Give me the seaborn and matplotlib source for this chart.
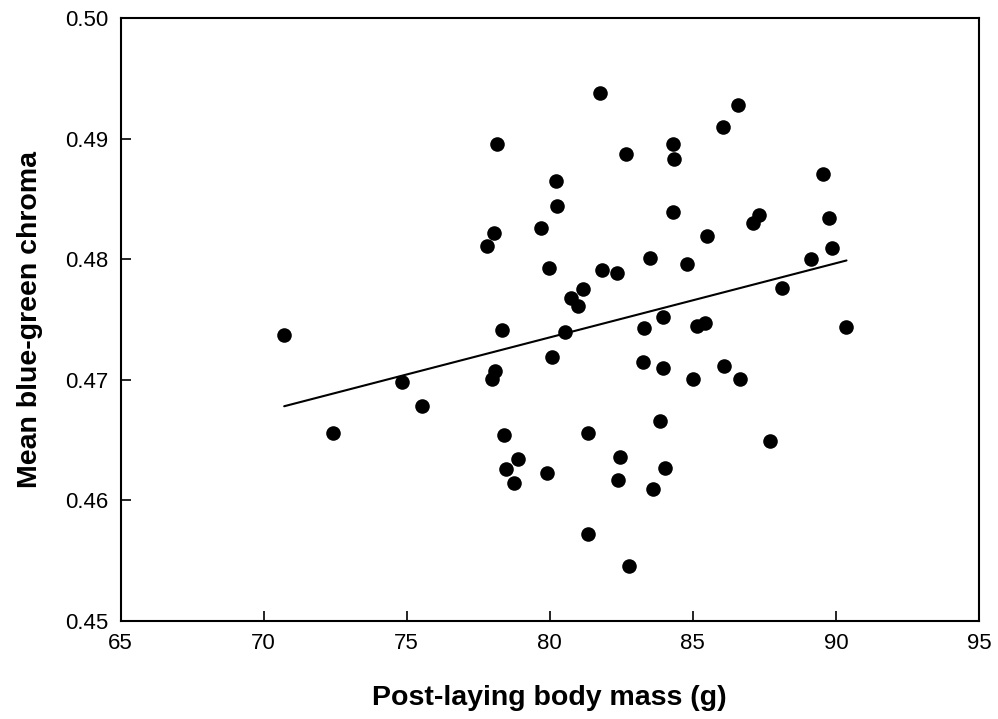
import matplotlib
matplotlib.use("Agg")
import matplotlib.pyplot as plt
import seaborn as sns
import pandas as pd

body_mass = [78.15, 80.22, 80.24, 79.69, 78.05, 77.81, 79.97, 81.77, 86.57, 86.06,
             82.67, 84.30, 84.34, 89.55, 84.30, 87.32, 87.09, 89.77, 85.48, 89.87,
             83.50, 89.14, 84.80, 81.81, 82.35, 81.17, 80.73, 81.00, 88.11, 80.53,
             83.29, 83.97, 85.13, 85.42, 90.35, 80.07, 83.25, 83.97, 85.02, 86.09,
             86.65, 83.85, 81.32, 87.68, 82.44, 84.03, 82.37, 83.62, 81.32, 82.76,
             70.72, 78.32, 78.09, 77.97, 74.84, 75.54, 72.42, 78.40, 78.90, 78.46,
             78.76, 79.89]
chroma = [0.4896, 0.4865, 0.4844, 0.4826, 0.4822, 0.4811, 0.4793, 0.4938, 0.4928, 0.4910,
          0.4887, 0.4896, 0.4883, 0.4871, 0.4839, 0.4837, 0.4830, 0.4834, 0.4819, 0.4809,
          0.4801, 0.4800, 0.4796, 0.4791, 0.4789, 0.4775, 0.4768, 0.4761, 0.4776, 0.4740,
          0.4743, 0.4752, 0.4745, 0.4747, 0.4744, 0.4719, 0.4715, 0.4710, 0.4701, 0.4711,
          0.4701, 0.4666, 0.4656, 0.4649, 0.4636, 0.4627, 0.4617, 0.4609, 0.4572, 0.4545,
          0.4737, 0.4741, 0.4707, 0.4701, 0.4698, 0.4678, 0.4656, 0.4654, 0.4634, 0.4626,
          0.4614, 0.4623]

fit_x = [70.72, 90.37]
fit_y = [0.4678, 0.4799]

x_ticks = [65, 70, 75, 80, 85, 90, 95]
y_ticks = [0.45, 0.46, 0.47, 0.48, 0.49, 0.50]
x_label = "Post-laying body mass (g)"
y_label = "Mean blue-green chroma"

sns.set_theme(style="white")
plt.rcParams['font.family'] = ['Liberation Sans', 'DejaVu Sans']
plt.rcParams['text.color'] = 'black'
plt.rcParams['axes.labelcolor'] = 'black'
plt.rcParams['xtick.color'] = 'black'
plt.rcParams['ytick.color'] = 'black'

df = pd.DataFrame({"mass": body_mass, "chroma": chroma})
fit = pd.DataFrame({"mass": fit_x, "chroma": fit_y})

fig = plt.figure(figsize=(9.98, 7.19), dpi=100)
ax = fig.add_axes([120.5 / 998, 1 - 620.7 / 719, (979 - 120.5) / 998, (620.7 - 18.3) / 719])

sns.lineplot(data=fit, x="mass", y="chroma", ax=ax, color="black", linewidth=1.5)
sns.scatterplot(data=df, x="mass", y="chroma", ax=ax, color="black", s=110,
                edgecolor="black", linewidth=0, zorder=3)

ax.set_xlim(65, 95)
ax.set_ylim(0.45, 0.50)
ax.set_xticks(x_ticks)
ax.set_xticklabels([str(t) for t in x_ticks])
ax.set_yticks(y_ticks)
ax.set_yticklabels([f"{t:.2f}" for t in y_ticks])

ax.tick_params(axis='both', direction='in', length=7, width=1.2, color='black',
               labelcolor='black', labelsize=16, pad=9, bottom=True, left=True,
               top=False, right=False)
for sp in ax.spines.values():
    sp.set_color('black')
    sp.set_linewidth(1.5)

ax.set_xlabel(x_label, fontsize=20.5, fontweight='bold', labelpad=22, color='black')
ax.set_ylabel(y_label, fontsize=20.5, fontweight='bold', labelpad=16, color='black')

fig.savefig("out.png", dpi=100)
